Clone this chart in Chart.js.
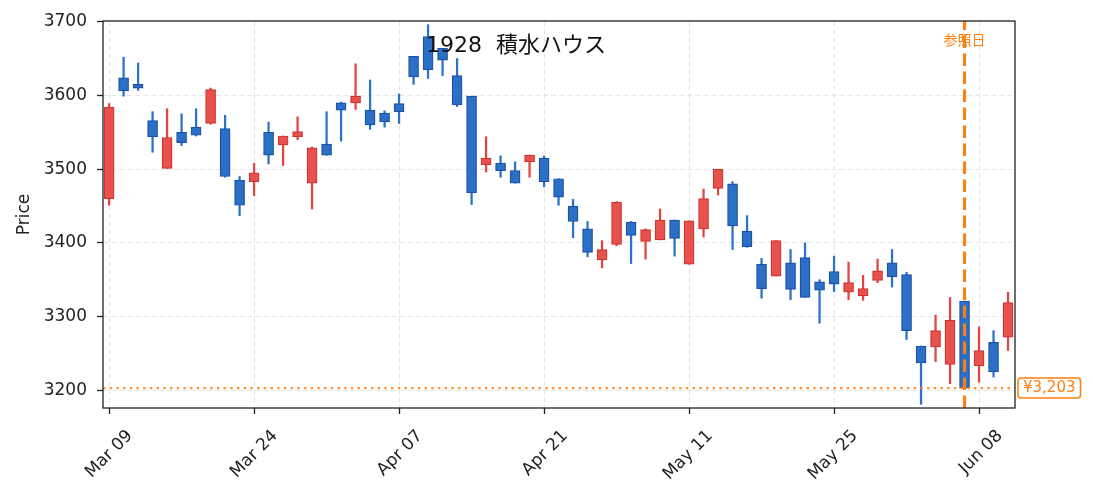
<!DOCTYPE html>
<html>
<head>
<meta charset="utf-8">
<script src="https://cdn.jsdelivr.net/npm/chart.js@4.4.1/dist/chart.umd.min.js"></script>
<style>
html, body { margin: 0; padding: 0; background: #fff; }
#wrap { width: 1093px; height: 498px; }
</style>
</head>
<body>
<div id="wrap"><canvas id="priceChart"></canvas></div>
<script>
// trading days (index on the x axis)
var dates = [
    'Mar 09', 'Mar 10', 'Mar 11', 'Mar 12', 'Mar 13', 'Mar 16', 'Mar 17', 'Mar 18', 'Mar 19', 'Mar 23',
    'Mar 24', 'Mar 25', 'Mar 26', 'Mar 27', 'Mar 30', 'Mar 31', 'Apr 01', 'Apr 02', 'Apr 03', 'Apr 06',
    'Apr 07', 'Apr 08', 'Apr 09', 'Apr 10', 'Apr 13', 'Apr 14', 'Apr 15', 'Apr 16', 'Apr 17', 'Apr 20',
    'Apr 21', 'Apr 22', 'Apr 23', 'Apr 24', 'Apr 27', 'Apr 28', 'Apr 30', 'May 01', 'May 07', 'May 08',
    'May 11', 'May 12', 'May 13', 'May 14', 'May 15', 'May 18', 'May 19', 'May 20', 'May 21', 'May 22',
    'May 25', 'May 26', 'May 27', 'May 28', 'May 29', 'Jun 01', 'Jun 02', 'Jun 03', 'Jun 04', 'Jun 05',
    'Jun 08', 'Jun 09', 'Jun 10'
];
var opens = [
    3460, 3624, 3615, 3566, 3501, 3550, 3557, 3562, 3555, 3485,
    3483, 3550, 3533, 3544, 3481, 3534, 3590, 3590, 3580, 3576,
    3589, 3653, 3680, 3664, 3627, 3599, 3506, 3508, 3498, 3510,
    3515, 3487, 3450, 3419, 3377, 3398, 3428, 3402, 3404, 3431,
    3371, 3419, 3474, 3480, 3416, 3371, 3355, 3373, 3380, 3347,
    3361, 3333, 3328, 3349, 3373, 3357, 3260, 3259, 3235, 3321,
    3233, 3265, 3272
];
var highs = [
    3589, 3652, 3644, 3578, 3582, 3575, 3582, 3610, 3573, 3490,
    3508, 3564, 3545, 3571, 3530, 3578, 3591, 3643, 3621, 3579,
    3602, 3653, 3696, 3664, 3650, 3599, 3544, 3518, 3510, 3519,
    3518, 3487, 3459, 3429, 3403, 3456, 3429, 3419, 3446, 3431,
    3430, 3473, 3500, 3483, 3437, 3379, 3403, 3391, 3400, 3350,
    3382, 3374, 3356, 3378, 3391, 3360, 3260, 3302, 3326, 3321,
    3286, 3281, 3333
];
var lows = [
    3451, 3599, 3607, 3523, 3501, 3532, 3545, 3561, 3489, 3437,
    3464, 3507, 3505, 3540, 3446, 3519, 3538, 3581, 3554, 3557,
    3562, 3615, 3623, 3627, 3585, 3452, 3496, 3489, 3481, 3489,
    3476, 3451, 3407, 3381, 3366, 3396, 3372, 3378, 3404, 3382,
    3371, 3408, 3465, 3391, 3394, 3325, 3355, 3323, 3326, 3291,
    3334, 3323, 3322, 3346, 3340, 3269, 3181, 3239, 3209, 3203,
    3211, 3218, 3254
];
var closes = [
    3584, 3606, 3610, 3544, 3543, 3536, 3546, 3608, 3490, 3451,
    3495, 3519, 3545, 3551, 3529, 3519, 3580, 3599, 3560, 3564,
    3578, 3625, 3635, 3648, 3587, 3468, 3515, 3498, 3481, 3519,
    3483, 3462, 3429, 3387, 3391, 3455, 3410, 3418, 3431, 3406,
    3430, 3460, 3500, 3423, 3395, 3338, 3403, 3337, 3326, 3336,
    3344, 3346, 3338, 3362, 3354, 3281, 3237, 3281, 3295, 3203,
    3254, 3225, 3319
];
var tickIdx = [0, 10, 20, 30, 40, 50, 60];
var yTicks = [3200, 3300, 3400, 3500, 3600, 3700];

var title = '1928  積水ハウス';
var refIdx = 59;
var refPrice = 3203;
var refLabel = '参照日';

var xMin = -0.42, xMax = 62.48;
var yMin = 3176, yMax = 3701;

var RED_FILL = '#e8514c', RED_EDGE = '#cc3431', RED_WICK = '#e2443f';
var BLUE_FILL = '#2b70c6', BLUE_EDGE = '#1b52a2', BLUE_WICK = '#2a72ca';
var ORANGE = '#ff7f0e';
var FONT = '"DejaVu Sans", "Noto Sans CJK JP", sans-serif';

var up = closes.map((c, i) => c >= opens[i]);
var bodyData = opens.map((o, i) => ({x: i, y: [o, closes[i]]}));
var wickData = lows.map((l, i) => ({x: i, y: [l, highs[i]]}));

// frame, title and the two orange labels
var annotate = {
    id: 'annotate',
    afterDatasetsDraw: function(chart) {
        var a = chart.chartArea, ctx = chart.ctx;
        ctx.save();
        ctx.strokeStyle = '#222';
        ctx.lineWidth = 1.3;
        ctx.strokeRect(a.left, a.top, a.right - a.left, a.bottom - a.top);
        ctx.restore();
    },
    afterDraw: function(chart) {
        var ctx = chart.ctx, xs = chart.scales.x, ys = chart.scales.y, a = chart.chartArea;
        ctx.save();
        ctx.fillStyle = '#111';
        ctx.font = '22px ' + FONT;
        ctx.textAlign = 'left';
        ctx.textBaseline = 'middle';
        ctx.fillText(title, 426, 46);

        ctx.fillStyle = ORANGE;
        ctx.font = '14px "Noto Sans CJK JP", sans-serif';
        ctx.textAlign = 'center';
        ctx.fillText(refLabel, xs.getPixelForValue(refIdx), a.top + 19);

        var py = ys.getPixelForValue(refPrice);
        var txt = '¥' + refPrice.toLocaleString('en-US');
        ctx.font = '15px ' + FONT;
        var w = ctx.measureText(txt).width + 10, h = 20, bx = a.right + 3;
        ctx.beginPath();
        ctx.roundRect(bx, py - h / 2, w, h, 3);
        ctx.fillStyle = '#fff';
        ctx.fill();
        ctx.lineWidth = 1.5;
        ctx.strokeStyle = ORANGE;
        ctx.stroke();
        ctx.fillStyle = ORANGE;
        ctx.textAlign = 'left';
        ctx.fillText(txt, bx + 5, py + 0.5);
        ctx.restore();
    }
};

var ctx = document.getElementById('priceChart').getContext('2d');
var chart = new Chart(ctx, {
    type: 'bar',
    data: {
        datasets: [
            {
                type: 'line',
                label: 'ref price',
                data: [{x: xMin, y: refPrice}, {x: xMax, y: refPrice}],
                borderColor: 'rgba(255,127,14,0.85)',
                borderWidth: 2.4,
                borderDash: [2.4, 4.3],
                pointRadius: 0,
                order: 0
            },
            {
                type: 'line',
                label: 'ref day',
                data: [{x: refIdx, y: yMin}, {x: refIdx, y: yMax}],
                borderColor: ORANGE,
                borderWidth: 3,
                borderDash: [12.5, 5.5],
                pointRadius: 0,
                order: 0
            },
            {
                label: 'body',
                data: bodyData,
                backgroundColor: up.map(u => u ? RED_FILL : BLUE_FILL),
                borderColor: up.map(u => u ? RED_EDGE : BLUE_EDGE),
                borderWidth: 1.2,
                borderSkipped: false,
                barThickness: 10,
                grouped: false,
                order: 1
            },
            {
                label: 'wick',
                data: wickData,
                backgroundColor: up.map(u => u ? RED_WICK : BLUE_WICK),
                borderWidth: 0,
                barThickness: 1.6,
                grouped: false,
                order: 2
            }
        ]
    },
    options: {
        responsive: true,
        maintainAspectRatio: false,
        animation: false,
        layout: {padding: {left: 0, right: 78, top: 21, bottom: 0}},
        plugins: {
            legend: {display: false},
            tooltip: {enabled: false}
        },
        scales: {
            x: {
                type: 'linear',
                min: xMin,
                max: xMax,
                offset: false,
                afterBuildTicks: function(s) { s.ticks = tickIdx.map(v => ({value: v})); },
                afterFit: function(s) { s.height = 90; },
                ticks: {
                    autoSkip: false,
                    minRotation: 45,
                    maxRotation: 45,
                    labelOffset: 21,
                    padding: 12,
                    color: '#222',
                    font: {family: FONT, size: 17},
                    callback: function(v) { return dates[v]; }
                },
                grid: {
                    offset: false,
                    color: '#e6e6e6',
                    lineWidth: 1,
                    tickLength: 6,
                    tickColor: '#222',
                    tickWidth: 1.3
                },
                border: {display: false, dash: [5, 3]}
            },
            y: {
                type: 'linear',
                min: yMin,
                max: yMax,
                afterBuildTicks: function(s) { s.ticks = yTicks.map(v => ({value: v})); },
                afterFit: function(s) { s.width = 103; },
                ticks: {
                    color: '#222',
                    padding: 10,
                    font: {family: FONT, size: 17},
                    callback: function(v) { return String(v); }
                },
                grid: {
                    color: '#e6e6e6',
                    lineWidth: 1,
                    tickLength: 6,
                    tickColor: '#222',
                    tickWidth: 1.3
                },
                border: {display: false, dash: [5, 3]},
                title: {
                    display: true,
                    text: 'Price',
                    color: '#222',
                    font: {family: FONT, size: 17},
                    padding: {top: 14, bottom: 0}
                }
            }
        }
    },
    plugins: [annotate]
});
</script>
</body>
</html>
